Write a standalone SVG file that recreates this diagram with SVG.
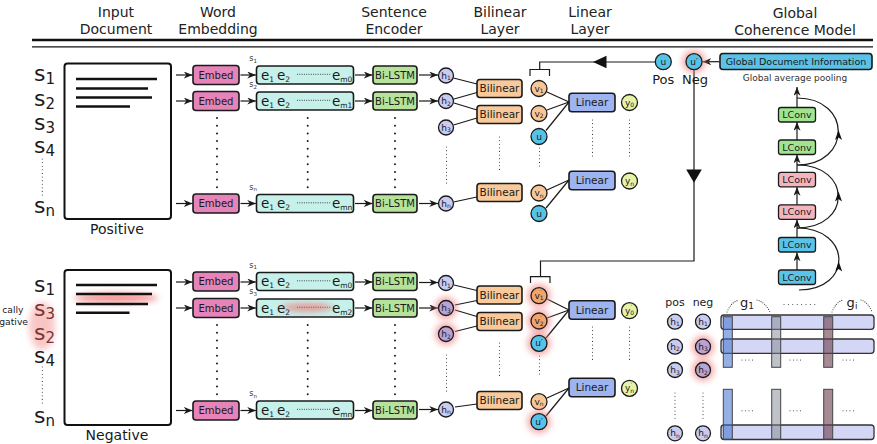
<svg xmlns="http://www.w3.org/2000/svg" width="877" height="444" viewBox="0 0 877 444">
<defs>
<style>
text{font-family:"DejaVu Sans","Liberation Sans",sans-serif;fill:#1a1a1a}
.hd{font-size:14px;text-anchor:middle;fill:#222}
.bx{stroke:#1a1a1a;stroke-width:1.6}
.emb{fill:#e683b8}
.eb{fill:#c6f1eb}
.bl{fill:#b6e29c}
.bil{fill:#f8c99b}
.lin{fill:#9db4f1}
.bt{font-size:10px;text-anchor:middle}
.bt2{font-size:10.5px;text-anchor:middle}
.cir{stroke:#1a1a1a;stroke-width:1.3}
.hc{fill:#cacbf1}
.hp{fill:#b9a2d4}
.vc{fill:#f7c697}
.vp{fill:#f0a46e}
.uc{fill:#57c2e7}
.yc{fill:#e7f1a8}
.ct{font-size:9px;text-anchor:middle}
.sub{font-size:6px}
.ln{stroke:#1a1a1a;stroke-width:1.2;fill:none}
.ar{stroke:#1a1a1a;stroke-width:1.2;fill:none;marker-end:url(#ah)}
.dt{stroke:#1a1a1a;stroke-width:2;stroke-dasharray:0 7.7;stroke-linecap:round;fill:none}
.fd{stroke:#333;stroke-width:1.1;stroke-dasharray:0 3.6;stroke-linecap:round;fill:none}
.ed{stroke:#333;stroke-width:0.9;stroke-dasharray:1 1.3;fill:none}
.gl{fill:#f08484;opacity:.7}
.s{font-size:22px}
.ss{font-size:15px}
.et{font-size:13.5px}
.es{font-size:7.5px}
.sl{font-size:8px;fill:#333}
.sls{font-size:5.5px}
.lc{stroke:#1a1a1a;stroke-width:1.3}
.lg{fill:#a1e48f}
.lp{fill:#f4b4bd}
.lb{fill:#5cc3e8}
.lt{font-size:9.5px;text-anchor:middle}
.hb{fill:#d4d6f5;stroke:#333;stroke-width:1.3}
.vb{stroke:#444;stroke-width:1}
</style>
<filter id="blur" x="-1" y="-1" width="3" height="3"><feGaussianBlur stdDeviation="3"/></filter>
<marker id="ah" viewBox="0 0 10 8" refX="10" refY="4" markerWidth="9" markerHeight="7" markerUnits="userSpaceOnUse" orient="auto"><path d="M0,0 L10,4 L0,8 L3,4 z" fill="#1a1a1a"/></marker>
</defs>
<rect width="877" height="444" fill="#fff"/>

<g id="header">
<text class="hd" x="116" y="17">Input</text><text class="hd" x="116" y="34">Document</text>
<text class="hd" x="218" y="17">Word</text><text class="hd" x="218" y="34">Embedding</text>
<text class="hd" x="394" y="17">Sentence</text><text class="hd" x="394" y="34">Encoder</text>
<text class="hd" x="500" y="17">Bilinear</text><text class="hd" x="500" y="34">Layer</text>
<text class="hd" x="590" y="17">Linear</text><text class="hd" x="590" y="34">Layer</text>
<text class="hd" x="795" y="18">Global</text><text class="hd" x="795" y="35">Coherence Model</text>
<line x1="32" y1="40" x2="873" y2="40" stroke="#111" stroke-width="2.6"/>
<line x1="32" y1="46.8" x2="873" y2="46.8" stroke="#111" stroke-width="1.3"/>
</g>

<!-- Positive document -->
<g id="doc-pos">
<rect x="64.5" y="63.5" width="106.5" height="155.5" rx="3" fill="#fff" stroke="#111" stroke-width="2"/>
<g stroke="#111" stroke-width="2.4">
<line x1="76" y1="79" x2="157" y2="79"/><line x1="76" y1="88.5" x2="148" y2="88.5"/>
<line x1="76" y1="97.5" x2="152" y2="97.5"/><line x1="76" y1="106.5" x2="130" y2="106.5"/>
</g>
<text x="117" y="233.5" font-size="14" text-anchor="middle">Positive</text>
</g>
<g id="labels-pos">
<text class="s" x="34" y="80.5">s<tspan class="ss" dy="3">1</tspan></text>
<text class="s" x="34" y="106">s<tspan class="ss" dy="3">2</tspan></text>
<text class="s" x="34" y="129.5">s<tspan class="ss" dy="3">3</tspan></text>
<text class="s" x="34" y="153">s<tspan class="ss" dy="3">4</tspan></text>
<line class="fd" x1="42.3" y1="159" x2="42.3" y2="195"/>
<text class="s" x="34" y="213">s<tspan class="ss" dy="3">n</tspan></text>
</g>

<!-- Negative document -->
<g id="doc-neg">
<rect x="64.5" y="270" width="106.5" height="155" rx="3" fill="#fff" stroke="#111" stroke-width="2"/>
<ellipse cx="116" cy="298" rx="42" ry="5" fill="#f07070" opacity="0.75" filter="url(#blur)"/>
<g stroke="#111" stroke-width="2.4">
<line x1="76" y1="285" x2="157" y2="285"/><line x1="76" y1="294" x2="152" y2="294"/>
<line x1="76" y1="304" x2="148" y2="304"/><line x1="76" y1="312.7" x2="129.5" y2="312.7"/>
</g>
<text x="117" y="440" font-size="14" text-anchor="middle">Negative</text>
</g>
<g id="labels-neg">
<ellipse cx="42" cy="326" rx="13" ry="24" fill="#f5a0a0" opacity="0.6" filter="url(#blur)"/>
<text x="23.5" y="313.3" font-size="9.2" text-anchor="end">cally</text>
<text x="28" y="325" font-size="9.2" text-anchor="end">gative</text>
<text class="s" x="34" y="291.7">s<tspan class="ss" dy="3">1</tspan></text>
<text class="s" x="34" y="316" style="fill:#7a3232">s<tspan class="ss" dy="3">3</tspan></text>
<text class="s" x="34" y="339.5" style="fill:#7a3232">s<tspan class="ss" dy="3">2</tspan></text>
<text class="s" x="34" y="362.7">s<tspan class="ss" dy="3">4</tspan></text>
<line class="fd" x1="42.3" y1="367" x2="42.3" y2="403"/>
<text class="s" x="34" y="422.7">s<tspan class="ss" dy="3">n</tspan></text>
</g>

<!-- Embed nodes -->
<g id="embed-pos-1"><rect class="bx emb" x="193" y="65.5" width="46" height="19" rx="3"/><text class="bt" x="216" y="78.5">Embed</text></g>
<g id="embed-pos-2"><rect class="bx emb" x="193" y="91.5" width="46" height="19" rx="3"/><text class="bt" x="216" y="104.5">Embed</text></g>
<g id="embed-pos-n"><rect class="bx emb" x="193" y="194" width="46" height="19" rx="3"/><text class="bt" x="216" y="207">Embed</text></g>
<g id="embed-neg-1"><rect class="bx emb" x="193" y="272" width="46" height="19" rx="3"/><text class="bt" x="216" y="285">Embed</text></g>
<g id="embed-neg-2"><rect class="bx emb" x="193" y="298.5" width="46" height="19" rx="3"/><text class="bt" x="216" y="311.5">Embed</text></g>
<g id="embed-neg-n"><rect class="bx emb" x="193" y="401" width="46" height="19" rx="3"/><text class="bt" x="216" y="414">Embed</text></g>

<!-- word embedding rows -->
<g id="emb-pos-1">
<text class="sl" x="249.3" y="61">s<tspan class="sls" dy="1.5">1</tspan></text>
<rect class="bx eb" x="256.5" y="66" width="97" height="18" rx="3"/>
<text class="et" x="261" y="79.5">e<tspan class="es" dy="2">1</tspan></text>
<text class="et" x="277" y="79.5">e<tspan class="es" dy="2">2</tspan></text>
<line class="ed" x1="297" y1="74.3" x2="331" y2="74.3"/>
<text class="et" x="332" y="79.5">e<tspan class="es" dy="2">m0</tspan></text>
</g>
<g id="emb-pos-2">
<text class="sl" x="249.3" y="87">s<tspan class="sls" dy="1.5">2</tspan></text>
<rect class="bx eb" x="256.5" y="92" width="97" height="18" rx="3"/>
<text class="et" x="261" y="105.5">e<tspan class="es" dy="2">1</tspan></text>
<text class="et" x="277" y="105.5">e<tspan class="es" dy="2">2</tspan></text>
<line class="ed" x1="297" y1="100.3" x2="331" y2="100.3"/>
<text class="et" x="332" y="105.5">e<tspan class="es" dy="2">m1</tspan></text>
</g>
<g id="emb-pos-n">
<text class="sl" x="249.3" y="189.5">s<tspan class="sls" dy="1.5">n</tspan></text>
<rect class="bx eb" x="256.5" y="194.5" width="97" height="18" rx="3"/>
<text class="et" x="261" y="208">e<tspan class="es" dy="2">1</tspan></text>
<text class="et" x="277" y="208">e<tspan class="es" dy="2">2</tspan></text>
<line class="ed" x1="297" y1="202.8" x2="331" y2="202.8"/>
<text class="et" x="332" y="208">e<tspan class="es" dy="2">mn</tspan></text>
</g>
<g id="emb-neg-1">
<text class="sl" x="249.3" y="267.5">s<tspan class="sls" dy="1.5">1</tspan></text>
<rect class="bx eb" x="256.5" y="272.5" width="97" height="18" rx="3"/>
<text class="et" x="261" y="286">e<tspan class="es" dy="2">1</tspan></text>
<text class="et" x="277" y="286">e<tspan class="es" dy="2">2</tspan></text>
<line class="ed" x1="297" y1="280.8" x2="331" y2="280.8"/>
<text class="et" x="332" y="286">e<tspan class="es" dy="2">m0</tspan></text>
</g>
<g id="emb-neg-2">
<text class="sl" x="249.3" y="294">s<tspan class="sls" dy="1.5">3</tspan></text>
<rect class="bx eb" x="256.5" y="299" width="97" height="18" rx="3"/>
<ellipse cx="307" cy="307.5" rx="26" ry="4" fill="#f07070" opacity="0.7" filter="url(#blur)"/>
<text class="et" x="261" y="312.5">e<tspan class="es" dy="2">1</tspan></text>
<text class="et" x="277" y="312.5">e<tspan class="es" dy="2">2</tspan></text>
<line class="ed" x1="297" y1="307.3" x2="331" y2="307.3" style="stroke:#c03030"/>
<text class="et" x="332" y="312.5">e<tspan class="es" dy="2">m2</tspan></text>
</g>
<g id="emb-neg-n">
<text class="sl" x="249.3" y="396">s<tspan class="sls" dy="1.5">n</tspan></text>
<rect class="bx eb" x="256.5" y="401" width="97" height="18" rx="3"/>
<text class="et" x="261" y="414.5">e<tspan class="es" dy="2">1</tspan></text>
<text class="et" x="277" y="414.5">e<tspan class="es" dy="2">2</tspan></text>
<line class="ed" x1="297" y1="409.3" x2="331" y2="409.3"/>
<text class="et" x="332" y="414.5">e<tspan class="es" dy="2">mn</tspan></text>
</g>

<!-- Bi-LSTM -->
<g id="lstm-pos-1"><rect class="bx bl" x="373" y="66" width="44" height="18" rx="3"/><text class="bt" x="395" y="78.5">Bi-LSTM</text></g>
<g id="lstm-pos-2"><rect class="bx bl" x="373" y="92" width="44" height="18" rx="3"/><text class="bt" x="395" y="104.5">Bi-LSTM</text></g>
<g id="lstm-pos-n"><rect class="bx bl" x="373" y="194.5" width="44" height="18" rx="3"/><text class="bt" x="395" y="207">Bi-LSTM</text></g>
<g id="lstm-neg-1"><rect class="bx bl" x="373" y="272.5" width="44" height="18" rx="3"/><text class="bt" x="395" y="285">Bi-LSTM</text></g>
<g id="lstm-neg-2"><rect class="bx bl" x="373" y="299" width="44" height="18" rx="3"/><text class="bt" x="395" y="311.5">Bi-LSTM</text></g>
<g id="lstm-neg-n"><rect class="bx bl" x="373" y="401" width="44" height="18" rx="3"/><text class="bt" x="395" y="413.5">Bi-LSTM</text></g>

<!-- column dots -->
<g id="column-dots">
<line class="dt" x1="217" y1="118" x2="217" y2="188"/>
<line class="dt" x1="307.7" y1="118" x2="307.7" y2="188"/>
<line class="dt" x1="395" y1="118" x2="395" y2="188"/>
<line class="fd" x1="446.5" y1="147" x2="446.5" y2="184"/>
<line class="fd" x1="499.5" y1="137" x2="499.5" y2="170"/>
<line class="fd" x1="539.5" y1="148" x2="539.5" y2="169"/>
<line class="fd" x1="592.5" y1="120" x2="592.5" y2="156"/>
<line class="fd" x1="629.5" y1="120" x2="629.5" y2="156"/>
<line class="dt" x1="217" y1="325" x2="217" y2="395"/>
<line class="dt" x1="307.7" y1="325" x2="307.7" y2="395"/>
<line class="dt" x1="395" y1="325" x2="395" y2="395"/>
<line class="fd" x1="446.5" y1="355" x2="446.5" y2="391"/>
<line class="fd" x1="499.5" y1="343" x2="499.5" y2="377"/>
<line class="fd" x1="539.5" y1="356" x2="539.5" y2="377"/>
<line class="fd" x1="592.5" y1="327" x2="592.5" y2="362"/>
<line class="fd" x1="629.5" y1="327" x2="629.5" y2="362"/>
<line class="fd" x1="675" y1="393" x2="675" y2="421"/>
<line class="fd" x1="703" y1="393" x2="703" y2="421"/>
</g>

<!-- connectors -->
<g id="connectors">
<path class="ar" d="M176,75 H192.5"/><path class="ar" d="M176,101 H192.5"/><path class="ar" d="M176,203.5 H192.5"/>
<path class="ar" d="M240.5,75 H256"/><path class="ar" d="M240.5,101 H256"/><path class="ar" d="M240.5,203.5 H256"/>
<path class="ar" d="M355,75 H372.5"/><path class="ar" d="M355,101 H372.5"/><path class="ar" d="M355,203.5 H372.5"/>
<path class="ar" d="M419,75 H438"/><path class="ar" d="M419,101 H438"/><path class="ar" d="M419,203.5 H438"/>
<path class="ar" d="M176,282 H192.5"/><path class="ar" d="M176,308 H192.5"/><path class="ar" d="M176,410.5 H192.5"/>
<path class="ar" d="M240.5,282 H256"/><path class="ar" d="M240.5,308 H256"/><path class="ar" d="M240.5,410.5 H256"/>
<path class="ar" d="M355,282 H372.5"/><path class="ar" d="M355,308 H372.5"/><path class="ar" d="M355,410.5 H372.5"/>
<path class="ar" d="M419,282.5 H438"/><path class="ar" d="M419,308 H438"/><path class="ar" d="M419,409.5 H438"/>
<!-- h to bilinear -->
<path class="ln" d="M453.5,78 L477,84"/>
<path class="ln" d="M454,99 L477,92.5"/>
<path class="ln" d="M454,103 L477,110"/>
<path class="ln" d="M453.5,125 L477,118"/>
<path class="ln" d="M453.5,202 L477,197"/>
<path class="ln" d="M454,285 L477,290.5"/>
<path class="ln" d="M455,305 L477,300.5"/>
<path class="ln" d="M455,310 L477,316.5"/>
<path class="ln" d="M455,331.5 L477,326"/>
<path class="ln" d="M455,407 L477,404"/>
<!-- v to linear -->
<path class="ln" d="M547,92 L569,102"/>
<path class="ln" d="M547,110 L569,102"/>
<path class="ln" d="M546,130.5 L569,102"/>
<path class="ln" d="M547,190 L569,180"/>
<path class="ln" d="M546,208 L569,180"/>
<path class="ln" d="M547,299 L569,310"/>
<path class="ln" d="M547,318 L569,310"/>
<path class="ln" d="M546,338 L569,310"/>
<path class="ln" d="M547,398 L569,388"/>
<path class="ln" d="M546,416 L569,388"/>
<!-- brackets and feedback -->
<path class="ln" d="M530,76 V69.5 H549.5 V76" stroke-width="1.5"/>
<path class="ln" d="M539.7,69.5 V62 H655.3" stroke-width="1.5"/>
<path d="M606.5,55.8 V68.2 L593,62 Z" fill="#111"/>
<path class="ln" d="M694,69.7 V261 H540.5 V276.7" stroke-width="1.5"/>
<path d="M686.2,169.5 H701.8 L694,182.7 Z" fill="#111"/>
<path class="ln" d="M530.5,283 V276.7 H550 V283" stroke-width="1.5"/>
<path class="ar" d="M719.5,61.7 H702.5"/>
<!-- LConv stack -->
<path class="ar" d="M797,270 V252.5"/>
<path class="ar" d="M797,237.5 V219.5"/>
<path class="ar" d="M797,205 V187"/>
<path class="ar" d="M797,172.3 V154.5"/>
<path class="ar" d="M797,140 V122"/>
<path class="ar" d="M797,107.5 V87"/>
<path class="ln" d="M797,165 C852,165 852,98 797,98"/>
<path class="ln" d="M797,228 C852,228 852,165 797,165"/>
<path class="ln" d="M799,290 C853,290 852,228 797,228"/>
<path d="M838.5,130 L842,140 L838.5,137.5 L835,140 Z" fill="#111"/>
<path d="M838.5,191.5 L842,201.5 L838.5,199 L835,201.5 Z" fill="#111"/>
<path d="M838.7,261.5 L842.2,271.5 L838.7,269 L835.2,271.5 Z" fill="#111"/>
</g>

<!-- h nodes top -->
<g id="h-pos-1"><circle class="cir hc" cx="446" cy="75.5" r="7.5"/><text class="ct" x="446" y="78.5">h<tspan class="sub" dy="1.5">1</tspan></text></g>
<g id="h-pos-2"><circle class="cir hc" cx="446" cy="101" r="7.5"/><text class="ct" x="446" y="104">h<tspan class="sub" dy="1.5">2</tspan></text></g>
<g id="h-pos-3"><circle class="cir hc" cx="446" cy="127.5" r="7.5"/><text class="ct" x="446" y="130.5">h<tspan class="sub" dy="1.5">3</tspan></text></g>
<g id="h-pos-n"><circle class="cir hc" cx="446" cy="203.5" r="7.5"/><text class="ct" x="446" y="206.5">h<tspan class="sub" dy="1.5">n</tspan></text></g>
<!-- h nodes bottom -->
<g id="h-neg-1"><circle class="cir hc" cx="446" cy="283" r="7.5"/><text class="ct" x="446" y="286">h<tspan class="sub" dy="1.5">1</tspan></text></g>
<g id="h-neg-3"><circle class="gl" cx="446" cy="308" r="11" filter="url(#blur)"/><circle class="cir hp" cx="446" cy="308" r="7.5"/><text class="ct" x="446" y="311">h<tspan class="sub" dy="1.5">3</tspan></text></g>
<g id="h-neg-2"><circle class="gl" cx="446" cy="334" r="11" filter="url(#blur)"/><circle class="cir hp" cx="446" cy="334" r="7.5"/><text class="ct" x="446" y="337">h<tspan class="sub" dy="1.5">2</tspan></text></g>
<g id="h-neg-n"><circle class="cir hc" cx="446" cy="409.5" r="7.5"/><text class="ct" x="446" y="412.5">h<tspan class="sub" dy="1.5">n</tspan></text></g>

<!-- Bilinear -->
<g id="bil-pos-1"><rect class="bx bil" x="477" y="79.5" width="45" height="18" rx="3"/><text class="bt2" x="499.5" y="92.3">Bilinear</text></g>
<g id="bil-pos-2"><rect class="bx bil" x="477" y="105.5" width="45" height="18" rx="3"/><text class="bt2" x="499.5" y="118.3">Bilinear</text></g>
<g id="bil-pos-n"><rect class="bx bil" x="477" y="183.5" width="45" height="18" rx="3"/><text class="bt2" x="499.5" y="196.3">Bilinear</text></g>
<g id="bil-neg-1"><rect class="bx bil" x="477" y="286" width="45" height="18" rx="3"/><text class="bt2" x="499.5" y="298.8">Bilinear</text></g>
<g id="bil-neg-2"><rect class="bx bil" x="477" y="312.5" width="45" height="18" rx="3"/><text class="bt2" x="499.5" y="325.3">Bilinear</text></g>
<g id="bil-neg-n"><rect class="bx bil" x="477" y="391.5" width="45" height="18" rx="3"/><text class="bt2" x="499.5" y="404.3">Bilinear</text></g>

<!-- v / u nodes top -->
<g id="v-pos-1"><circle class="cir vc" cx="539" cy="88.5" r="8"/><text class="ct" x="539" y="91.5">v<tspan class="sub" dy="1.5">1</tspan></text></g>
<g id="v-pos-2"><circle class="cir vc" cx="539" cy="113.5" r="8"/><text class="ct" x="539" y="116.5">v<tspan class="sub" dy="1.5">2</tspan></text></g>
<g id="u-pos-1"><circle class="cir uc" cx="539" cy="136.5" r="8"/><text class="ct" x="539" y="139.5">u</text></g>
<g id="v-pos-n"><circle class="cir vc" cx="539" cy="193" r="8"/><text class="ct" x="539" y="196">v<tspan class="sub" dy="1.5">n</tspan></text></g>
<g id="u-pos-n"><circle class="cir uc" cx="539" cy="213.5" r="8"/><text class="ct" x="539" y="216.5">u</text></g>
<!-- v / u nodes bottom -->
<g id="v-neg-1"><circle class="gl" cx="539" cy="295.7" r="11.5" filter="url(#blur)"/><circle class="cir vp" cx="539" cy="295.7" r="8"/><text class="ct" x="539" y="298.7">v<tspan class="sub" dy="1.5">1</tspan><tspan class="sub" dx="-3.4" dy="-6">′</tspan></text></g>
<g id="v-neg-2"><circle class="gl" cx="539" cy="321" r="11.5" filter="url(#blur)"/><circle class="cir vp" cx="539" cy="321" r="8"/><text class="ct" x="539" y="324">v<tspan class="sub" dy="1.5">2</tspan><tspan class="sub" dx="-3.4" dy="-6">′</tspan></text></g>
<g id="u-neg-1"><circle class="gl" cx="539" cy="343.3" r="11.5" filter="url(#blur)"/><circle class="cir uc" cx="539" cy="343.3" r="8"/><text class="ct" x="539" y="346.3">u′</text></g>
<g id="v-neg-n"><circle class="cir vc" cx="539" cy="401.7" r="8"/><text class="ct" x="539" y="404.7">v<tspan class="sub" dy="1.5">n</tspan></text></g>
<g id="u-neg-n"><circle class="gl" cx="539" cy="421.7" r="11.5" filter="url(#blur)"/><circle class="cir uc" cx="539" cy="421.7" r="8"/><text class="ct" x="539" y="424.7">u′</text></g>

<!-- Linear -->
<g id="lin-pos-1"><rect class="bx lin" x="569" y="93.3" width="46" height="18.5" rx="3"/><text class="bt2" x="592" y="106.3">Linear</text></g>
<g id="lin-pos-n"><rect class="bx lin" x="569" y="171.3" width="46" height="18.5" rx="3"/><text class="bt2" x="592" y="184.3">Linear</text></g>
<g id="lin-neg-1"><rect class="bx lin" x="569" y="300.7" width="46" height="18.5" rx="3"/><text class="bt2" x="592" y="313.7">Linear</text></g>
<g id="lin-neg-n"><rect class="bx lin" x="569" y="378.3" width="46" height="18.5" rx="3"/><text class="bt2" x="592" y="391.3">Linear</text></g>

<!-- y nodes -->
<g id="y-pos-0"><circle class="cir yc" cx="629.5" cy="102.5" r="8"/><text class="ct" x="629.5" y="105.5">y<tspan class="sub" dy="1.5">0</tspan></text></g>
<g id="y-pos-n"><circle class="cir yc" cx="629.5" cy="181" r="8"/><text class="ct" x="629.5" y="184">y<tspan class="sub" dy="1.5">n</tspan></text></g>
<g id="y-neg-0"><circle class="cir yc" cx="629.5" cy="310.7" r="8"/><text class="ct" x="629.5" y="313.7">y<tspan class="sub" dy="1.5">0</tspan><tspan class="sub" dx="-3.4" dy="-6">′</tspan></text></g>
<g id="y-neg-n"><circle class="cir yc" cx="629.5" cy="388.3" r="8"/><text class="ct" x="629.5" y="391.3">y<tspan class="sub" dy="1.5">n</tspan><tspan class="sub" dx="-3.4" dy="-6">′</tspan></text></g>

<!-- Pos / Neg global vectors -->
<g id="u-pos-global"><circle class="cir uc" cx="663.3" cy="61.7" r="8"/><text class="ct" x="663.3" y="64.7">u</text><text x="663.3" y="84" font-size="13" text-anchor="middle">Pos</text></g>
<g id="u-neg-global"><circle class="gl" cx="694" cy="61.7" r="11.5" filter="url(#blur)"/><circle class="cir uc" cx="694" cy="61.7" r="8"/><text class="ct" x="694" y="64.7">u′</text><text x="695" y="84" font-size="13" text-anchor="middle">Neg</text></g>

<!-- Global document information -->
<g id="gdi"><rect class="bx" x="720" y="53.5" width="152" height="16" rx="3" fill="#5bc2e7"/><text x="796" y="65" font-size="9.5" text-anchor="middle">Global Document Information</text></g>
<g id="gap"><text x="795" y="81" font-size="9" text-anchor="middle" style="fill:#333">Global average pooling</text></g>

<!-- LConv -->
<g id="lconv-1"><rect class="lc lg" x="778.5" y="107.5" width="37" height="14.5" rx="2.5"/><text class="lt" x="797" y="118">LConv</text></g>
<g id="lconv-2"><rect class="lc lg" x="778.5" y="140" width="37" height="14.5" rx="2.5"/><text class="lt" x="797" y="150.5">LConv</text></g>
<g id="lconv-3"><rect class="lc lp" x="778.5" y="172.3" width="37" height="14.5" rx="2.5"/><text class="lt" x="797" y="182.8">LConv</text></g>
<g id="lconv-4"><rect class="lc lp" x="778.5" y="204.8" width="37" height="14.5" rx="2.5"/><text class="lt" x="797" y="215.3">LConv</text></g>
<g id="lconv-5"><rect class="lc lb" x="778.5" y="237.5" width="37" height="14.5" rx="2.5"/><text class="lt" x="797" y="248">LConv</text></g>
<g id="lconv-6"><rect class="lc lb" x="778.5" y="270" width="37" height="14.5" rx="2.5"/><text class="lt" x="797" y="280.5">LConv</text></g>

<!-- pos / neg sentence matrix -->
<g id="posneg">
<text x="675" y="306" font-size="11" text-anchor="middle">pos</text>
<text x="703" y="306" font-size="11" text-anchor="middle">neg</text>
<circle class="cir hc" cx="675" cy="321.7" r="7.5"/><text class="ct" x="675" y="324.7">h<tspan class="sub" dy="1.5">1</tspan></text>
<circle class="cir hc" cx="675" cy="346.7" r="7.5"/><text class="ct" x="675" y="349.7">h<tspan class="sub" dy="1.5">2</tspan></text>
<circle class="cir hc" cx="675" cy="370" r="7.5"/><text class="ct" x="675" y="373">h<tspan class="sub" dy="1.5">3</tspan></text>
<circle class="cir hc" cx="675" cy="433.3" r="7.5"/><text class="ct" x="675" y="436.3">h<tspan class="sub" dy="1.5">n</tspan></text>
<circle class="cir hc" cx="703" cy="321.7" r="7.5"/><text class="ct" x="703" y="324.7">h<tspan class="sub" dy="1.5">1</tspan></text>
<circle class="gl" cx="703" cy="346.7" r="11" filter="url(#blur)"/><circle class="cir hp" cx="703" cy="346.7" r="7.5"/><text class="ct" x="703" y="349.7">h<tspan class="sub" dy="1.5">3</tspan></text>
<circle class="gl" cx="703" cy="370" r="11" filter="url(#blur)"/><circle class="cir hp" cx="703" cy="370" r="7.5"/><text class="ct" x="703" y="373">h<tspan class="sub" dy="1.5">2</tspan></text>
<circle class="cir hc" cx="703" cy="433.3" r="7.5"/><text class="ct" x="703" y="436.3">h<tspan class="sub" dy="1.5">n</tspan></text>
</g>
<g id="windows">
<text x="747" y="306.5" font-size="13" text-anchor="middle">g<tspan font-size="9" dy="2">1</tspan></text>
<text x="852" y="306.5" font-size="13" text-anchor="middle">g<tspan font-size="9" dy="2">i</tspan></text>
<path class="fd" d="M727,312 Q731,302 739,300" style="stroke-dasharray:0 2.2"/>
<path class="fd" d="M757,300 Q765,302 770,312" style="stroke-dasharray:0 2.2"/>
<path class="fd" d="M832,312 Q836,302 843,300" style="stroke-dasharray:0 2.2"/>
<path class="fd" d="M861,300 Q868,302 872,312" style="stroke-dasharray:0 2.2"/>
<line class="fd" x1="784" y1="304.5" x2="815" y2="304.5" style="stroke-dasharray:0 4.4"/>
<rect class="hb" x="721" y="315" width="153" height="14.3" rx="3"/>
<rect class="hb" x="721" y="339" width="153" height="14.3" rx="3"/>
<rect class="hb" x="721" y="425" width="153" height="14.5" rx="3"/>
<rect class="vb" x="723.3" y="316.7" width="9" height="50.6" fill="#3f6fd0" fill-opacity="0.55"/>
<rect class="vb" x="771.7" y="316.7" width="9" height="50.6" fill="#80858f" fill-opacity="0.5"/>
<rect class="vb" x="823.7" y="316.7" width="9" height="50.6" fill="#6b3c4c" fill-opacity="0.6"/>
<rect class="vb" x="723.3" y="389.3" width="9" height="50" fill="#3f6fd0" fill-opacity="0.55"/>
<rect class="vb" x="771.7" y="389.3" width="9" height="50" fill="#80858f" fill-opacity="0.5"/>
<rect class="vb" x="823.7" y="389.3" width="9" height="50" fill="#6b3c4c" fill-opacity="0.6"/>
<g class="fd" style="stroke-dasharray:0 3.5">
<line x1="742" y1="360" x2="756" y2="360"/><line x1="790" y1="360" x2="804" y2="360"/><line x1="843" y1="360" x2="857" y2="360"/>
<line x1="742" y1="410.7" x2="756" y2="410.7"/><line x1="790" y1="410.7" x2="804" y2="410.7"/><line x1="843" y1="410.7" x2="857" y2="410.7"/>
</g>
</g>
</svg>
